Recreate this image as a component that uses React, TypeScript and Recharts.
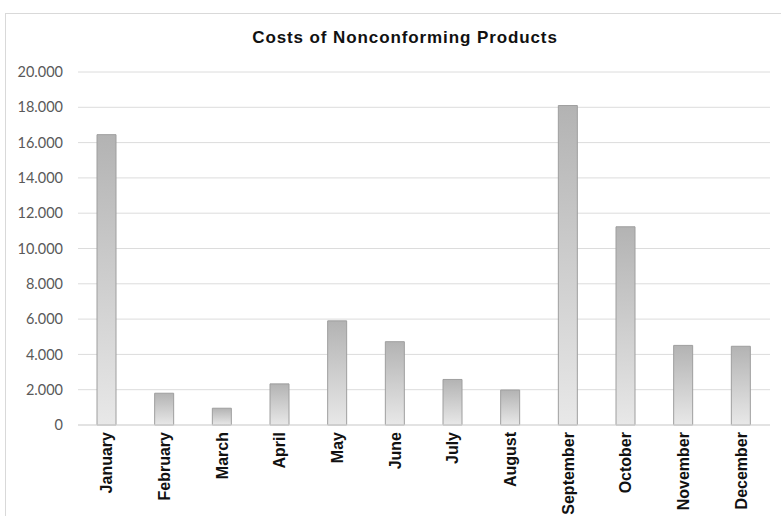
import React from "react";
import { Bar, BarChart, CartesianGrid, XAxis, YAxis } from "recharts";

const months = [
  "January",
  "February",
  "March",
  "April",
  "May",
  "June",
  "July",
  "August",
  "September",
  "October",
  "November",
  "December",
];
const costs = [16450, 1800, 950, 2330, 5900, 4720, 2580, 1980, 18100, 11230, 4510, 4460];
const yTicks = [0, 2000, 4000, 6000, 8000, 10000, 12000, 14000, 16000, 18000, 20000];

const data = months.map((m, i) => ({ month: m, cost: costs[i] }));

// 20000 -> "20.000"
const fmt = (v: number) => String(v).replace(/\B(?=(\d{3})+(?!\d))/g, ".");

function MonthTick({ x, payload }: any) {
  const y = 432;
  return (
    <text
      x={x}
      y={y}
      dy="0.35em"
      textAnchor="end"
      transform={`rotate(-90, ${x}, ${y})`}
      fontFamily="'Liberation Sans', Arial, sans-serif"
      fontWeight="bold"
      fontSize={16}
      fill="#111"
    >
      {payload.value}
    </text>
  );
}

export default function App() {
  return (
    <div
      style={{
        position: "absolute",
        left: 0,
        top: 0,
        width: 781,
        height: 516,
        overflow: "hidden",
        background: "#fff",
      }}
    >
      <div
        style={{
          position: "absolute",
          left: 5,
          top: 13,
          width: 800,
          height: 530,
          border: "1px solid #d9d9d9",
        }}
      />
      <div
        style={{
          position: "absolute",
          left: 0,
          top: 28,
          width: 810,
          textAlign: "center",
          fontFamily: "'Liberation Sans', Arial, sans-serif",
          fontWeight: "bold",
          fontSize: 17,
          lineHeight: "20px",
          letterSpacing: 0.9,
          color: "#111",
        }}
      >
        Costs of Nonconforming Products
      </div>
      <div style={{ position: "absolute", left: 0, top: 0 }}>
        <BarChart
          width={781}
          height={516}
          data={data}
          margin={{ top: 72, right: 11, left: 0, bottom: 0 }}
        >
          <defs>
            <linearGradient id="barFill" x1="0" y1="0" x2="0" y2="1">
              <stop offset="0%" stopColor="#b3b3b3" />
              <stop offset="100%" stopColor="#e8e8e8" />
            </linearGradient>
          </defs>
          <CartesianGrid stroke="#dcdcdc" vertical={false} />
          <XAxis
            dataKey="month"
            height={91}
            interval={0}
            axisLine={{ stroke: "#d9d9d9" }}
            tickLine={false}
            tick={<MonthTick />}
          />
          <YAxis
            width={78}
            domain={[0, 20000]}
            ticks={yTicks}
            axisLine={false}
            tickLine={false}
            tickMargin={9}
            tickFormatter={fmt}
            tick={{ fill: "#595959", fontSize: 14.5, fontFamily: "Lato, sans-serif" }}
          />
          <Bar
            dataKey="cost"
            barSize={19}
            fill="url(#barFill)"
            stroke="#9e9e9e"
            strokeWidth={1}
            isAnimationActive={false}
          />
        </BarChart>
      </div>
    </div>
  );
}
